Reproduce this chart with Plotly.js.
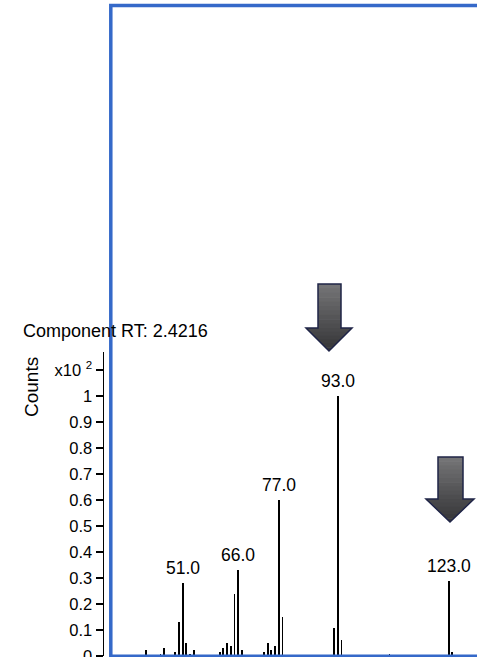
<!DOCTYPE html>
<html>
<head>
<meta charset="utf-8">
<script src="https://cdn.plot.ly/plotly-3.0.1.min.js"></script>
<style>
html,body{margin:0;padding:0;background:#fff;}
#chart{width:477px;height:657px;}
</style>
</head>
<body>
<div id="chart"></div>
<script>
// m/z values of the spectrum lines
const mz = [41,45,46,49,50,51,52,53,54,61,62,63,64,65,66,67,73,74,75,76,77,78,92,93,94,107,123,124];
// abundance in units of x10^2 counts
const counts = [0.023,0.008,0.03,0.017,0.13,0.28,0.05,0.008,0.023,0.015,0.03,0.05,0.038,0.24,0.33,0.023,0.015,0.05,0.023,0.038,0.60,0.15,0.107,1.0,0.06,0.007,0.29,0.015];
// labelled peaks
const labelMz = [51,66,77,93,123];
const labelCounts = [0.28,0.33,0.60,1.0,0.29];
const labelText = ["51.0","66.0","77.0","93.0","123.0"];
// y tick values and labels
const yTickVals = [0,0.1,0.2,0.3,0.4,0.5,0.6,0.7,0.8,0.9,1,1.1];
const yTickText = ["0","0.1","0.2","0.3","0.4","0.5","0.6","0.7","0.8","0.9","1","x10 <sup>2</sup>"];
const titleText = "Component RT: 2.4216";
const yLabel = "Counts";

const W = 477, H = 657;
const M = {l:104, r:0, t:352, b:1};
const pw = W - M.l - M.r, ph = H - M.t - M.b;
// pixel -> paper helpers for decorations
const px = v => (v - M.l) / pw;
const py = v => (H - M.b - v) / ph;

const FONT = "Liberation Sans, Arial, Helvetica, sans-serif";

const trace = {
  type: 'bar',
  x: mz,
  y: counts,
  width: 0.48,
  marker: {color: '#000', line: {width: 0}},
  hoverinfo: 'x+y'
};

function poly(pts) {
  return 'M' + pts.map(p => px(p[0]) + ',' + py(p[1])).join(' L') + ' Z';
}
function grayAt(t) {
  const g = Math.round(118 - t * 66);
  return 'rgb(' + g + ',' + g + ',' + (g + 2) + ')';
}
// decorative down-arrow with vertical gradient, built from bands
function arrowShapes(a) {
  const out = [];
  const total = a.tipY - a.top;
  const nS = 10, nH = 6;
  const sh = (a.neck - a.top) / nS;
  for (let i = 0; i < nS; i++) {
    const y0 = a.top + i * sh, y1 = Math.min(a.neck + 0.3, y0 + sh + 0.6);
    out.push({type: 'path', xref: 'paper', yref: 'paper', layer: 'above',
      path: poly([[a.sL, y0], [a.sR, y0], [a.sR, y1], [a.sL, y1]]),
      fillcolor: grayAt((y0 + sh / 2 - a.top) / total), line: {width: 0}});
  }
  const hh = (a.tipY - a.neck) / nH;
  const cx = a.tipX;
  const xl = y => a.hL + (cx - a.hL) * (y - a.neck) / (a.tipY - a.neck);
  const xr = y => a.hR + (cx - a.hR) * (y - a.neck) / (a.tipY - a.neck);
  for (let i = 0; i < nH; i++) {
    const y0 = a.neck + i * hh, y1 = Math.min(a.tipY, y0 + hh + 0.6);
    out.push({type: 'path', xref: 'paper', yref: 'paper', layer: 'above',
      path: poly([[xl(y0), y0], [xr(y0), y0], [xr(y1), y1], [xl(y1), y1]]),
      fillcolor: grayAt((y0 + hh / 2 - a.top) / total), line: {width: 0}});
  }
  out.push({type: 'path', xref: 'paper', yref: 'paper', layer: 'above',
    path: poly([[a.sL, a.top], [a.sR, a.top], [a.sR, a.neck], [a.hR, a.neck],
                [a.tipX, a.tipY], [a.hL, a.neck], [a.sL, a.neck]]),
    fillcolor: 'rgba(0,0,0,0)', line: {color: '#1f2447', width: 1.5}});
  return out;
}

const annotations = labelMz.map((m, i) => ({
  x: m, y: labelCounts[i], xref: 'x', yref: 'y',
  text: labelText[i], showarrow: false,
  xanchor: 'center', yanchor: 'bottom', yshift: 3,
  font: {family: FONT, size: 17.5, color: '#000'}
}));
annotations.push({
  x: px(21), y: py(331), xref: 'paper', yref: 'paper',
  text: titleText, showarrow: false, xanchor: 'left', yanchor: 'middle',
  font: {family: FONT, size: 18, color: '#000'}
});
annotations.push({
  x: px(31), y: py(387), xref: 'paper', yref: 'paper',
  text: yLabel, showarrow: false, textangle: -90,
  xanchor: 'center', yanchor: 'middle',
  font: {family: FONT, size: 19, color: '#000'}
});

const layout = {
  width: W, height: H,
  margin: {l: M.l, r: M.r, t: M.t, b: M.b, pad: 0},
  paper_bgcolor: '#fff', plot_bgcolor: 'rgba(0,0,0,0)',
  showlegend: false,
  bargap: 0,
  xaxis: {
    range: [29.7, 130.67], showgrid: false, zeroline: false,
    showline: false, showticklabels: false, ticks: '', fixedrange: true
  },
  yaxis: {
    range: [0, 1.169], showgrid: false, zeroline: false,
    showline: true, linecolor: '#000', linewidth: 1.5,
    ticks: 'outside', ticklen: 7, tickwidth: 1.5, tickcolor: '#000',
    tickvals: yTickVals, ticktext: yTickText,
    ticklabeloverflow: 'allow',
    tickfont: {family: FONT, size: 16.5, color: '#000'},
    fixedrange: true
  },
  shapes: [
    {type: 'rect', xref: 'paper', yref: 'paper',
     x0: px(110.8), x1: 1.2, y0: py(656.3), y1: py(5.5),
     line: {color: '#3569c9', width: 3.5}, fillcolor: 'rgba(0,0,0,0)', layer: 'above'}
  ].concat(
    arrowShapes({sL: 318, sR: 341, top: 284, neck: 328, hL: 306, hR: 352, tipX: 329, tipY: 351}),
    arrowShapes({sL: 438, sR: 463, top: 457, neck: 499, hL: 426, hR: 474, tipX: 450, tipY: 522})
  ),
  annotations: annotations
};

Plotly.newPlot('chart', [trace], layout, {displayModeBar: false, staticPlot: true});
</script>
</body>
</html>
